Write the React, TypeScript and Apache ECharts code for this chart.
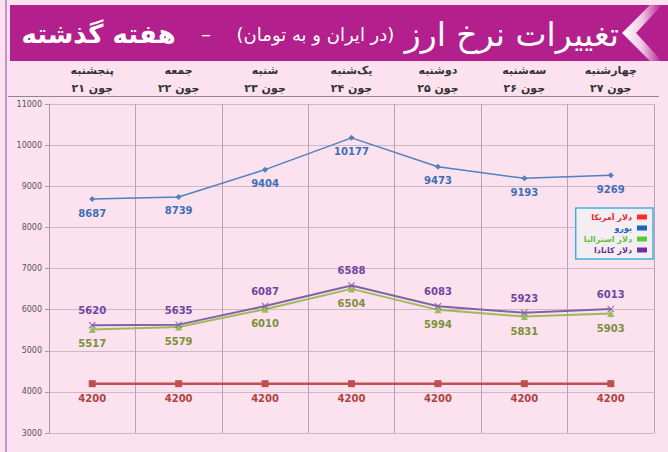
import React, { useEffect, useRef } from 'react';
import * as echarts from 'echarts';

const days = ['پنجشنبه', 'جمعه', 'شنبه', 'یک‌شنبه', 'دوشنبه', 'سه‌شنبه', 'چهارشنبه'];
const dates = ['جون ۲۱', 'جون ۲۲', 'جون ۲۳', 'جون ۲۴', 'جون ۲۵', 'جون ۲۶', 'جون ۲۷'];
const seriesNames = ['دلار آمریکا', 'یورو', 'دلار استرالیا', 'دلار کانادا'];
const usd = [4200, 4200, 4200, 4200, 4200, 4200, 4200];
const eur = [8687, 8739, 9404, 10177, 9473, 9193, 9269];
const aud = [5517, 5579, 6010, 6504, 5994, 5831, 5903];
const cad = [5620, 5635, 6087, 6588, 6083, 5923, 6013];
const yMin = 3000;
const yMax = 11000;
const yStep = 1000;
const titleMain = 'تغییرات نرخ ارز';
const titleSub = '(در ایران و به تومان)';
const titleEnd = 'هفته گذشته';

const FONT = '"DejaVu Sans", "Noto Sans", sans-serif';
const lineColors = ['#c0504d', '#4f81bd', '#9bbb59', '#8064a2'];
const labelColors = ['#b0413e', '#3d6fb6', '#7a8f3a', '#7044a0'];
const legendIcon = ['#ff2a2a', '#1565c0', '#5cc83c', '#7030a0'];
const legendText = ['#e8262e', '#1f5fbf', '#5fbf3f', '#6e2c8e'];

export default function App() {
  const ref = useRef<HTMLDivElement>(null);
  useEffect(() => {
    if (!ref.current) return;
    const chart = echarts.init(ref.current, null, { renderer: 'svg' });
    const cats = days.map((d, i) => d + '\n' + dates[i]);
    const xCross = 'path://M0,1L1,0L5,4L9,0L10,1L6,5L10,9L9,10L5,6L1,10L0,9L4,5Z';
    const datasets = [usd, eur, aud, cad];
    const symbols = ['rect', 'diamond', 'triangle', xCross];
    const symbolSizes = [7, 6, 7, 7];
    const positions = ['bottom', 'bottom', 'bottom', 'top'];
    const widths = [2.5, 1.5, 2, 2];
    chart.setOption({
      animation: false,
      backgroundColor: '#fce1ee',
      textStyle: { fontFamily: FONT },
      grid: { left: 49, right: 14, top: 104, bottom: 19, containLabel: false },
      legend: {
        orient: 'vertical',
        right: 15,
        top: 208,
        align: 'right',
        backgroundColor: '#f4eef2',
        borderColor: '#3fb0e0',
        borderWidth: 1.5,
        padding: [5, 6, 5, 8],
        itemGap: 3,
        itemWidth: 10,
        itemHeight: 5,
        textStyle: { fontSize: 8, fontWeight: 'bold', fontFamily: FONT },
        data: seriesNames.map((n, i) => ({
          name: n,
          icon: 'rect',
          itemStyle: { color: legendIcon[i] },
          textStyle: { color: legendText[i] },
        })),
      },
      xAxis: {
        type: 'category',
        position: 'top',
        data: cats,
        boundaryGap: true,
        axisLine: { show: false },
        axisTick: { show: false },
        axisLabel: {
          fontSize: 11,
          fontWeight: 'bold',
          color: '#333333',
          lineHeight: 18,
          margin: 7,
          fontFamily: FONT,
        },
        splitLine: { show: true, lineStyle: { color: '#bba2b2', width: 1 } },
      },
      yAxis: {
        type: 'value',
        min: yMin,
        max: yMax,
        interval: yStep,
        axisLine: { show: true, lineStyle: { color: '#a89aa4' } },
        axisTick: { show: true, length: 4, lineStyle: { color: '#a89aa4' } },
        axisLabel: {
          fontSize: 8,
          color: '#555555',
          margin: 7,
          fontFamily: FONT,
          formatter: (v: number) => String(v),
        },
        splitLine: { show: true, lineStyle: { color: '#cdb8c5', width: 1 } },
      },
      series: datasets.map((d, i) => ({
        name: seriesNames[i],
        type: 'line',
        data: d,
        symbol: symbols[i],
        symbolSize: symbolSizes[i],
        showAllSymbol: true,
        lineStyle: { color: lineColors[i], width: widths[i] },
        itemStyle: { color: lineColors[i] },
        label: {
          show: true,
          position: positions[i],
          distance: 6,
          fontSize: 10,
          fontWeight: 'bold',
          color: labelColors[i],
          fontFamily: FONT,
        },
        z: 3 + i,
      })),
      graphic: [
        {
          type: 'line',
          shape: { x1: 6, y1: 0, x2: 6, y2: 452 },
          style: { stroke: '#cf8fcb', lineWidth: 2 },
        },
        {
          type: 'rect',
          shape: { x: 10, y: 5, width: 658, height: 56 },
          style: { fill: '#b31f8c' },
        },
        {
          type: 'polygon',
          shape: {
            points: [
              [622, 33],
              [650, 5],
              [662, 5],
              [636, 33],
              [662, 61],
              [650, 61],
            ],
          },
          style: {
            fill: new echarts.graphic.LinearGradient(0, 0, 1, 0, [
              { offset: 0, color: '#ffffff' },
              { offset: 0.5, color: '#f0c8e4' },
              { offset: 1, color: '#b31f8c' },
            ]),
          },
        },
        {
          type: 'text',
          x: 619,
          y: 34,
          style: {
            text: '{b|' + titleEnd + '}{d|    –    }{s|' + titleSub + '}{t| ' + titleMain + '}',
            align: 'right',
            verticalAlign: 'middle',
            fill: '#ffffff',
            fontFamily: FONT,
            rich: {
              b: { fontSize: 26, fontWeight: 'bold', fill: '#ffffff', fontFamily: FONT },
              d: { fontSize: 20, fill: '#ffffff', fontFamily: FONT },
              s: { fontSize: 18, fill: '#ffffff', fontFamily: FONT },
              t: { fontSize: 33, fill: '#ffffff', fontFamily: FONT },
            },
          },
        },
        {
          type: 'line',
          shape: { x1: 8, y1: 96.5, x2: 659, y2: 96.5 },
          style: { stroke: '#8a8a8a', lineWidth: 1 },
        },
      ],
    });
    return () => chart.dispose();
  }, []);
  return (
    <div
      ref={ref}
      style={{ position: 'absolute', left: 0, top: 0, width: 668, height: 452 }}
    />
  );
}
